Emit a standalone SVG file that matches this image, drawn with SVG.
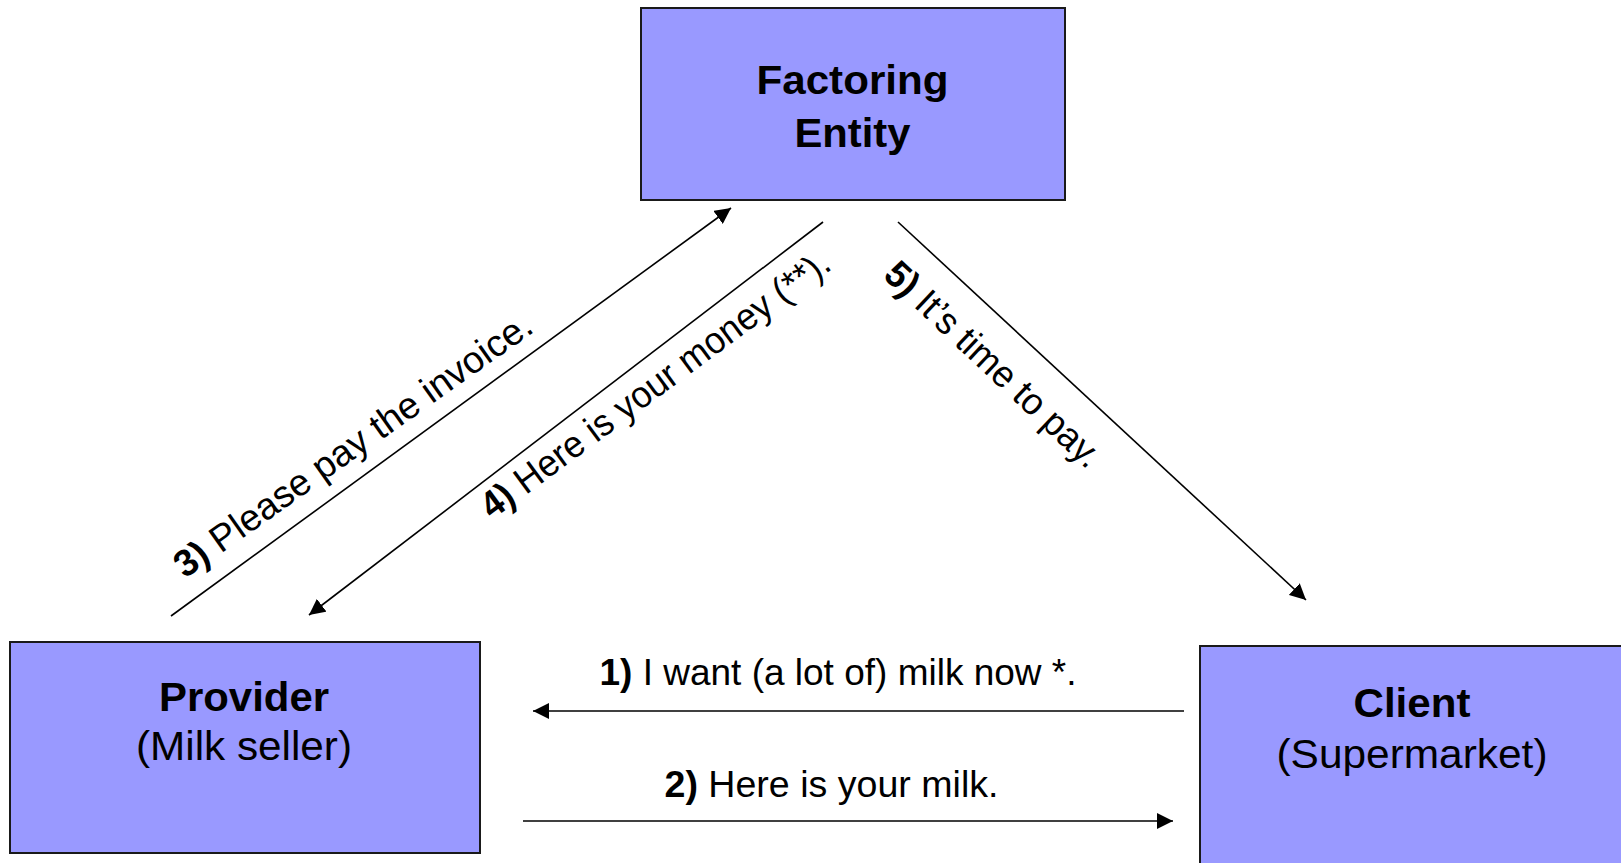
<svg xmlns="http://www.w3.org/2000/svg" width="1621" height="863" viewBox="0 0 1621 863">
<style>
.box{fill:#9999FF;stroke:#1a1a1a;stroke-width:2}
.t{font-family:"Liberation Sans",Arial,sans-serif;fill:#000}
.b{font-weight:bold}
.conn{stroke:#000;stroke-width:1.6;fill:none;marker-end:url(#ah)}
.lbl{font-family:"Liberation Sans",Arial,sans-serif;font-size:37.5px;fill:#000}
</style>
<defs>
<marker id="ah" viewBox="0 0 16 16" refX="16" refY="8" markerWidth="16" markerHeight="16" markerUnits="userSpaceOnUse" orient="auto">
<path d="M0,0 L16,8 L0,16 z" fill="#000"/>
</marker>
</defs>
<rect width="1621" height="863" fill="#fff"/>
<g id="factoring">
<rect class="box" x="641" y="8" width="424" height="192"/>
<text class="t b" x="852.5" y="94" font-size="41" text-anchor="middle" textLength="192" lengthAdjust="spacingAndGlyphs">Factoring</text>
<text class="t b" x="852.5" y="147" font-size="41" text-anchor="middle" textLength="116" lengthAdjust="spacingAndGlyphs">Entity</text>
</g>
<g id="provider">
<rect class="box" x="10" y="642" width="470" height="211"/>
<text class="t b" x="244" y="711" font-size="40" text-anchor="middle" textLength="170" lengthAdjust="spacingAndGlyphs">Provider</text>
<text class="t" x="244" y="760" font-size="40" text-anchor="middle" textLength="216" lengthAdjust="spacingAndGlyphs">(Milk seller)</text>
</g>
<g id="client">
<rect class="box" x="1200" y="646" width="428" height="225"/>
<text class="t b" x="1412" y="717" font-size="40" text-anchor="middle" textLength="117" lengthAdjust="spacingAndGlyphs">Client</text>
<text class="t" x="1412" y="768" font-size="40" text-anchor="middle" textLength="271" lengthAdjust="spacingAndGlyphs">(Supermarket)</text>
</g>
<g id="connectors">
<line class="conn" x1="1184" y1="711" x2="533" y2="711"/>
<line class="conn" x1="523" y1="821" x2="1173" y2="821"/>
<line class="conn" x1="171" y1="616" x2="731" y2="208"/>
<line class="conn" x1="823" y1="222" x2="309" y2="615"/>
<line class="conn" x1="898" y1="222" x2="1306" y2="600"/>
</g>
<g id="labels">
<text class="lbl" x="838" y="685" text-anchor="middle" textLength="477" lengthAdjust="spacingAndGlyphs"><tspan class="b">1)</tspan> I want (a lot of) milk now *.</text>
<text class="lbl" x="831.5" y="797" text-anchor="middle" textLength="334" lengthAdjust="spacingAndGlyphs"><tspan class="b">2)</tspan> Here is your milk.</text>
<text class="lbl" transform="translate(185,579) rotate(-35.3)"><tspan class="b">3)</tspan> Please pay the invoice.</text>
<text class="lbl" transform="translate(492,520) rotate(-36.4)" textLength="424" lengthAdjust="spacingAndGlyphs"><tspan class="b">4)</tspan> Here is your money (**).</text>
<text class="lbl" transform="translate(882,277) rotate(43.2)" textLength="282" lengthAdjust="spacingAndGlyphs"><tspan class="b">5)</tspan> It’s time to pay.</text>
</g>
</svg>
